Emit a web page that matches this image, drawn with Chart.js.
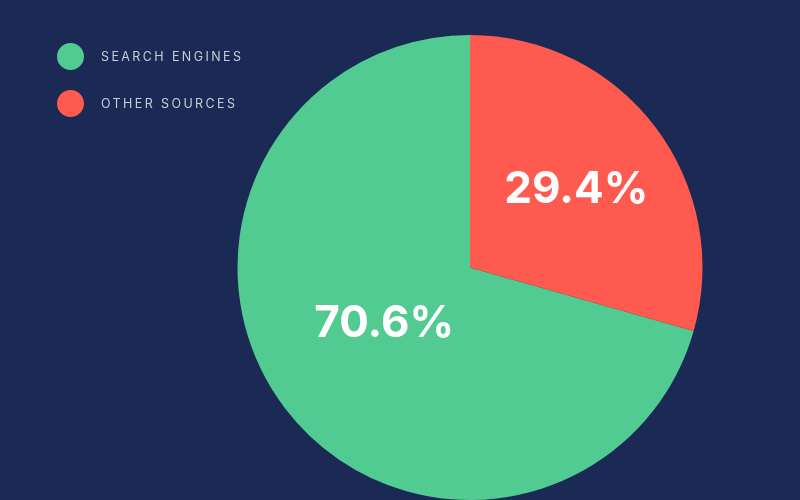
<!DOCTYPE html>
<html lang="en">
<head>
<meta charset="UTF-8" />
<title>Traffic Sources</title>
<script src="https://cdn.jsdelivr.net/npm/chart.js"></script>
<style>
  html, body { margin: 0; padding: 0; background: #1b2a54; overflow: hidden; }
  #wrap { position: relative; width: 800px; height: 500px; }
  #legend { position: absolute; left: 57px; top: 43px; list-style: none; margin: 0; padding: 0; }
  #legend li { display: flex; align-items: center; height: 27px; margin-bottom: 20px;
    font-family: Inter, "Open Sans", sans-serif; font-size: 12.5px; letter-spacing: 2.4px; color: #c9ccd8; }
  #legend span.dot { width: 27px; height: 27px; border-radius: 50%; margin-right: 17px; display: inline-block; }
</style>
</head>
<body>
<div id="wrap">
  <canvas id="pie" width="800" height="500"></canvas>
  <ul id="legend"></ul>
</div>
<script>
const labels = ["SEARCH ENGINES", "OTHER SOURCES"];
const shares = [70.6, 29.4];
const colors = ["#51cb91", "#ff5a4f"];

// label placement inside each slice: fraction of radius and angle nudge (deg)
const labelPlace = [{ r: 0.44, a: 4 }, { r: 0.567, a: 0.8 }];

const sliceLabels = {
  id: "sliceLabels",
  afterDatasetsDraw(chart) {
    const ctx = chart.ctx;
    const meta = chart.getDatasetMeta(0);
    ctx.save();
    ctx.fillStyle = "#ffffff";
    ctx.font = "bold 44px Inter, sans-serif";
    ctx.textAlign = "center";
    ctx.textBaseline = "middle";
    meta.data.forEach((arc, i) => {
      const p = arc.getProps(["x", "y", "startAngle", "endAngle", "outerRadius"], true);
      const mid = (p.startAngle + p.endAngle) / 2 + labelPlace[i].a * Math.PI / 180;
      const d = p.outerRadius * labelPlace[i].r;
      ctx.fillText(shares[i].toFixed(1) + "%", p.x + Math.cos(mid) * d, p.y + Math.sin(mid) * d);
    });
    ctx.restore();
  }
};

new Chart(document.getElementById("pie"), {
  type: "pie",
  data: {
    labels: labels,
    datasets: [{
      data: shares,
      backgroundColor: colors,
      borderWidth: 0
    }]
  },
  options: {
    responsive: false,
    animation: false,
    // other sources starts at 12 o'clock and runs clockwise
    rotation: shares[1] / 100 * 360,
    layout: { padding: { left: 237, right: 97, top: 35, bottom: 0 } },
    plugins: {
      legend: { display: false },
      tooltip: { enabled: false }
    }
  },
  plugins: [sliceLabels]
});

const legend = document.getElementById("legend");
labels.forEach((name, i) => {
  const li = document.createElement("li");
  li.innerHTML = '<span class="dot" style="background:' + colors[i] + '"></span>' + name;
  legend.appendChild(li);
});
</script>
</body>
</html>
